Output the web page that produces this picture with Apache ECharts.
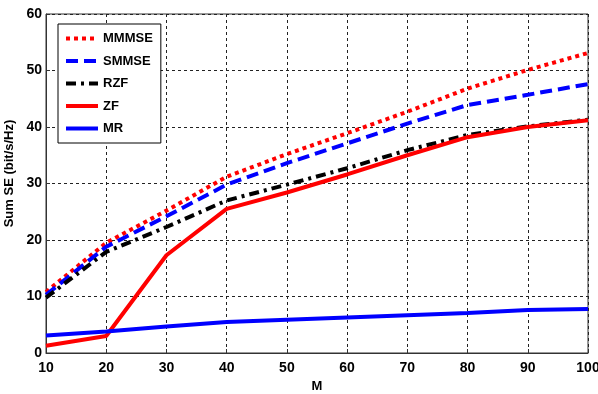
<!DOCTYPE html>
<html><head><meta charset="utf-8">
<script src="https://cdn.jsdelivr.net/npm/echarts@6/dist/echarts.min.js"></script>
<style>html,body{margin:0;padding:0;background:#fff}#c{width:598px;height:394px}</style>
</head><body><div id="c"></div>
<script>
const M = [10, 20, 30, 40, 50, 60, 70, 80, 90, 100];
const MMMSE = [10.8, 19.5, 25.2, 31.2, 35.2, 38.9, 42.7, 46.8, 50.1, 53.1];
const SMMSE = [10.3, 18.8, 24.2, 29.8, 33.6, 37.1, 40.6, 43.9, 45.7, 47.6];
const RZF = [9.8, 17.9, 22.3, 27.0, 29.8, 32.7, 35.9, 38.6, 40.1, 41.3];
const ZF = [1.3, 3.0, 17.3, 25.5, 28.4, 31.6, 35.0, 38.2, 40.0, 41.2];
const MR = [3.1, 3.8, 4.7, 5.5, 5.9, 6.3, 6.7, 7.1, 7.6, 7.8];
const xTicks = [10, 20, 30, 40, 50, 60, 70, 80, 90, 100];
const yTicks = [0, 10, 20, 30, 40, 50, 60];

const font = 'Liberation Sans, Arial, sans-serif';
const names = ['MMMSE', 'SMMSE', 'RZF', 'ZF', 'MR'];
const colors = ['#ff0000', '#0000ff', '#000000', '#ff0000', '#0000ff'];
const dashes = [[4, 4], [12, 6], [10, 5, 3, 5], 'solid', 'solid'];
const values = [MMMSE, SMMSE, RZF, ZF, MR];

const chart = echarts.init(document.getElementById('c'), null, { renderer: 'canvas' });
chart.setOption({
  animation: false,
  backgroundColor: '#fff',
  grid: { left: 46, right: 10, top: 14, bottom: 41, show: true, borderColor: '#333', borderWidth: 1,
    containLabel: false, outerBoundsMode: 'none' },
  xAxis: {
    type: 'value', min: 10, max: 100, interval: 10,
    name: 'M', nameLocation: 'middle', nameGap: 24,
    nameTextStyle: { fontFamily: font, fontWeight: 'bold', fontSize: 13, color: '#000' },
    axisLine: { lineStyle: { color: '#333' } },
    axisTick: { inside: true, length: 4, lineStyle: { color: '#333' } },
    axisLabel: { fontFamily: font, fontWeight: 'bold', fontSize: 14, color: '#000', margin: 8,
      formatter: v => xTicks.includes(v) ? String(v) : '' },
    splitLine: { show: true, lineStyle: { color: '#222', type: [3, 3], width: 1 } }
  },
  yAxis: {
    type: 'value', min: 0, max: 60, interval: 10,
    name: 'Sum SE (bit/s/Hz)', nameLocation: 'middle', nameGap: 27,
    nameTextStyle: { fontFamily: font, fontWeight: 'bold', fontSize: 13, color: '#000', padding: [0, 0, 0, 20] },
    axisLine: { lineStyle: { color: '#333' } },
    axisTick: { inside: true, length: 4, lineStyle: { color: '#333' } },
    axisLabel: { fontFamily: font, fontWeight: 'bold', fontSize: 14, color: '#000', margin: 4,
      formatter: v => yTicks.includes(v) ? String(v) : '' },
    splitLine: { show: true, lineStyle: { color: '#222', type: [3, 3], width: 1 } }
  },
  legend: {
    left: 58, top: 24, orient: 'vertical',
    itemWidth: 32, itemHeight: 12, itemGap: 9.5,
    padding: [8, 8, 8, 6],
    backgroundColor: '#fff', borderColor: '#000', borderWidth: 1,
    itemStyle: { opacity: 0 },
    textStyle: { fontFamily: font, fontWeight: 'bold', fontSize: 13, color: '#000' },
    data: names.map((n, i) => ({ name: n, lineStyle: { width: 4, color: colors[i], type: dashes[i] } }))
  },
  series: names.map((n, i) => ({
    name: n, type: 'line', data: M.map((m, j) => [m, values[i][j]]),
    symbol: 'none', showSymbol: false, animation: false,
    lineStyle: { color: colors[i], width: 4, type: dashes[i] },
    itemStyle: { color: colors[i] }
  }))
});
</script></body></html>
